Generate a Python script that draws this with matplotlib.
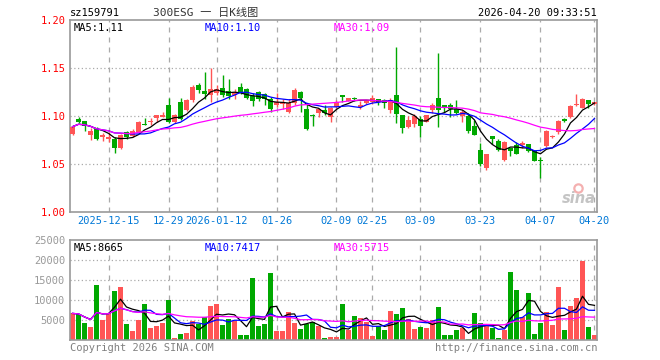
import numpy as np
import pandas as pd
import matplotlib
matplotlib.use("Agg")
import matplotlib.pyplot as plt

# daily candles, 2025-12-05 .. 2026-04-20 (88 trading days)
opens = [1.0813, 1.0969, 1.0948, 1.0806, 1.0868, 1.0778, 1.0760, 1.0764, 1.0667, 1.0837,
         1.0792, 1.0833, 1.0920, 1.0934, 1.0983, 1.0993, 1.1115, 1.0934, 1.1146, 1.1063,
         1.1167, 1.1323, 1.1260, 1.1219, 1.1236, 1.1288, 1.1260, 1.1222, 1.1299, 1.1278,
         1.1208, 1.1250, 1.1229, 1.1174, 1.1115, 1.1122, 1.1045, 1.1139, 1.1250, 1.1069,
         1.1010, 1.1031, 1.1063, 1.0993, 1.1097, 1.1215, 1.1160, 1.1184, 1.1090, 1.1139,
         1.1149, 1.1177, 1.1167, 1.1062, 1.1219, 1.1010, 1.0882, 1.0917, 1.0965, 1.0941,
         1.1062, 1.1187, 1.1111, 1.1111, 1.1076, 1.1000, 1.1000, 1.0896, 1.0646, 1.0458,
         1.0792, 1.0740, 1.0542, 1.0663, 1.0694, 1.0694, 1.0708, 1.0635, 1.0538, 1.0688,
         1.0781, 1.0830, 1.0969, 1.0993, 1.1115, 1.1087, 1.1167, 1.1125]
highs = [1.0899, 1.0986, 1.0948, 1.0872, 1.0889, 1.0819, 1.0837, 1.0785, 1.0813, 1.0847,
         1.0868, 1.0948, 1.0976, 1.0976, 1.1014, 1.1038, 1.1188, 1.1017, 1.1188, 1.1174,
         1.1319, 1.1347, 1.1455, 1.1497, 1.1323, 1.1427, 1.1385, 1.1278, 1.1347, 1.1288,
         1.1236, 1.1264, 1.1243, 1.1201, 1.1243, 1.1174, 1.1174, 1.1292, 1.1257, 1.1139,
         1.1017, 1.1080, 1.1115, 1.1097, 1.1167, 1.1215, 1.1191, 1.1198, 1.1160, 1.1167,
         1.1215, 1.1177, 1.1174, 1.1184, 1.1722, 1.1010, 1.1000, 1.1021, 1.1000, 1.1010,
         1.1139, 1.1660, 1.1115, 1.1132, 1.1167, 1.1062, 1.1028, 1.0958, 1.0715, 1.0604,
         1.0792, 1.0757, 1.0736, 1.0670, 1.0733, 1.0740, 1.0708, 1.0646, 1.0569, 1.0854,
         1.0802, 1.0958, 1.0979, 1.1115, 1.1226, 1.1184, 1.1167, 1.1149]
lows = [1.0802, 1.0924, 1.0847, 1.0750, 1.0750, 1.0743, 1.0733, 1.0618, 1.0660, 1.0764,
        1.0785, 1.0826, 1.0903, 1.0906, 1.0941, 1.0986, 1.0924, 1.0931, 1.0955, 1.1056,
        1.1149, 1.1243, 1.1174, 1.1149, 1.1219, 1.1201, 1.1174, 1.1174, 1.1229, 1.1174,
        1.1108, 1.1160, 1.1115, 1.1045, 1.1097, 1.1069, 1.1028, 1.1115, 1.1045, 1.0854,
        1.0896, 1.0990, 1.1010, 1.0941, 1.1080, 1.1149, 1.1156, 1.1156, 1.1076, 1.1125,
        1.1125, 1.1111, 1.1087, 1.1028, 1.0931, 1.0819, 1.0872, 1.0889, 1.0778, 1.0934,
        1.1028, 1.0889, 1.1038, 1.0986, 1.1021, 1.0941, 1.0826, 1.0802, 1.0479, 1.0438,
        1.0708, 1.0639, 1.0531, 1.0583, 1.0604, 1.0663, 1.0628, 1.0531, 1.0351, 1.0681,
        1.0774, 1.0813, 1.0941, 1.0983, 1.1108, 1.1080, 1.1080, 1.1118]
closes = [1.0889, 1.0938, 1.0899, 1.0844, 1.0764, 1.0802, 1.0785, 1.0670, 1.0802, 1.0778,
          1.0844, 1.0938, 1.0910, 1.0948, 1.1010, 1.1014, 1.0934, 1.1010, 1.0965, 1.1167,
          1.1306, 1.1271, 1.1229, 1.1278, 1.1278, 1.1219, 1.1212, 1.1253, 1.1247, 1.1184,
          1.1160, 1.1174, 1.1174, 1.1073, 1.1142, 1.1146, 1.1139, 1.1271, 1.1191, 1.0865,
          1.1003, 1.1073, 1.1031, 1.1087, 1.1149, 1.1201, 1.1184, 1.1174, 1.1115, 1.1153,
          1.1184, 1.1146, 1.1139, 1.1167, 1.1017, 1.0878, 1.0958, 1.1000, 1.0896, 1.1010,
          1.1111, 1.1062, 1.1097, 1.1076, 1.1028, 1.1045, 1.0844, 1.0802, 1.0497, 1.0604,
          1.0764, 1.0646, 1.0729, 1.0639, 1.0604, 1.0722, 1.0639, 1.0535, 1.0531, 1.0844,
          1.0792, 1.0948, 1.0948, 1.1108, 1.1125, 1.1177, 1.1125, 1.1142]
volumes = [6650, 6400, 4250, 3250, 13750, 5000, 6750, 12250, 13250, 4000,
           2250, 5000, 9000, 3000, 3600, 4250, 10000, 500, 1500, 1750,
           4750, 4100, 5750, 8600, 9000, 3850, 5250, 4850, 1350, 1350,
           15500, 3600, 4000, 16750, 2250, 2250, 7000, 4350, 2750, 4000,
           4400, 3500, 500, 850, 850, 9000, 2500, 6100, 5500, 4500,
           1000, 3400, 2500, 7250, 6500, 8000, 5250, 2750, 3350, 3000,
           5000, 8250, 1250, 1250, 2450, 3000, 300, 6750, 4170, 4000,
           3000, 500, 2500, 17000, 12500, 5750, 11750, 1500, 4250, 6995,
           3750, 13350, 2500, 8500, 10500, 19825, 3250, 1250]

tick_pos = [6, 16, 24, 34, 44, 50, 58, 68, 78, 87]
tick_labels = ["2025-12-15", "12-29", "2026-01-12", "01-26", "02-09",
               "02-25", "03-09", "03-23", "04-07", "04-20"]

UP = "#ff5555"
DOWN = "#00a800"
GRID = "#aaaaaa"
FRAME = "#999999"
MONO = ["DejaVu Sans Mono", "Noto Sans CJK SC"]

df = pd.DataFrame({"o": opens, "h": highs, "l": lows, "c": closes, "v": volumes})
x = np.arange(len(df))
up = df["c"] >= df["o"]
colors = np.where(up, UP, DOWN)

fig = plt.figure(figsize=(6.6, 3.6), dpi=100)
W, H = 660, 360


def box(left, top, right, bottom):
    return [left / W, 1 - bottom / H, (right - left) / W, (bottom - top) / H]


ax = fig.add_axes(box(70, 20, 597, 212))
axv = fig.add_axes(box(70, 240, 597, 340))

for a in (ax, axv):
    a.set_xlim(-0.42, 87.42)
    for s in a.spines.values():
        s.set_color(FRAME)
        s.set_linewidth(1.2)
    a.set_xticks(tick_pos)
    a.tick_params(length=0)
    for t in tick_pos:
        a.axvline(t, color=GRID, lw=0.9, ls=(0, (4, 4)), zorder=0)

# candles
ax.vlines(x, df["l"], df["h"], colors=colors, lw=1.0, zorder=2)
body_lo = np.minimum(df["o"], df["c"])
body_h = np.maximum(np.abs(df["c"] - df["o"]), 0.0009)
ax.bar(x, body_h, bottom=body_lo, width=0.78, color=colors, lw=0, zorder=3)

for n, col in ((5, "black"), (10, "#0000ff"), (30, "#ff00ff")):
    ax.plot(x, df["c"].rolling(n, min_periods=1).mean(), color=col, lw=0.9, zorder=4)

ax.set_ylim(1.00, 1.20)
ax.set_yticks([1.00, 1.05, 1.10, 1.15, 1.20])
ax.set_yticklabels(["1.00", "1.05", "1.10", "1.15", "1.20"], color="#ff0000",
                   family=MONO, fontsize=7.5)
for yv in (1.05, 1.10, 1.15):
    ax.axhline(yv, color=GRID, lw=0.9, ls=(0, (1, 2)), zorder=0)
ax.set_xticklabels(tick_labels, color="#0078d7", family=MONO, fontsize=7.5)
ax.tick_params(axis="x", pad=3)
ax.tick_params(axis="y", pad=3)

ma5 = df["c"].rolling(5).mean().iloc[-1]
ma10 = df["c"].rolling(10).mean().iloc[-1]
ma30 = df["c"].rolling(30).mean().iloc[-1]
ax.text(0.007, 0.985, f"MA5:{ma5:.2f}", transform=ax.transAxes, va="top",
        family=MONO, fontsize=7.5, color="black")
ax.text(0.255, 0.985, f"MA10:{ma10:.2f}", transform=ax.transAxes, va="top",
        family=MONO, fontsize=7.5, color="#0000ff")
ax.text(0.5, 0.985, f"MA30:{ma30:.2f}", transform=ax.transAxes, va="top",
        family=MONO, fontsize=7.5, color="#ff00ff")

# sina watermark
ax.text(0.998, 0.03, "sina", transform=ax.transAxes, ha="right", va="bottom",
        fontsize=10.5, fontweight="bold", style="italic", color="#c4c4c4", zorder=1)
ax.plot([0.964], [0.125], transform=ax.transAxes, marker="o", ms=6,
        mfc="none", mec="#f4b0b0", mew=1.6, zorder=1)

# volume
axv.bar(x, df["v"], width=0.8, color=colors, lw=0, zorder=2)
for n, col in ((5, "black"), (10, "#0000ff"), (30, "#ff00ff")):
    axv.plot(x, df["v"].rolling(n, min_periods=1).mean(), color=col, lw=0.9, zorder=4)
axv.set_ylim(0, 25000)
axv.set_yticks([5000, 10000, 15000, 20000, 25000])
axv.set_yticklabels(["5000", "10000", "15000", "20000", "25000"], color="#999999",
                    family=MONO, fontsize=7.5)
for yv in (5000, 10000, 15000, 20000):
    axv.axhline(yv, color=GRID, lw=0.9, ls=(0, (1, 2)), zorder=0)
axv.set_xticklabels([])

v5 = df["v"].rolling(5).mean().iloc[-1]
v10 = df["v"].rolling(10).mean().iloc[-1]
v30 = df["v"].rolling(30).mean().iloc[-1]
axv.text(0.007, 0.97, f"MA5:{v5:.0f}", transform=axv.transAxes, va="top",
         family=MONO, fontsize=7.5, color="black")
axv.text(0.255, 0.97, f"MA10:{v10:.0f}", transform=axv.transAxes, va="top",
         family=MONO, fontsize=7.5, color="#0000ff")
axv.text(0.5, 0.97, f"MA30:{v30:.0f}", transform=axv.transAxes, va="top",
         family=MONO, fontsize=7.5, color="#ff00ff")

# header / footer
fig.text(70 / W, 1 - 13 / H, "sz159791", family=MONO, fontsize=7.5, va="center")
fig.text(206 / W, 1 - 13 / H, "300ESG 一 日K线图", family=MONO, fontsize=8,
         va="center", ha="center", color="#333333")
fig.text(597 / W, 1 - 13 / H, "2026-04-20 09:33:51", family=MONO, fontsize=7.5,
         va="center", ha="right")
fig.text(70 / W, 1 - 348 / H, "Copyright 2026 SINA.COM", family=MONO, fontsize=7.5,
         va="center", color="#808080")
fig.text(597 / W, 1 - 348 / H, "http://finance.sina.com.cn", family=MONO, fontsize=7.5,
         va="center", ha="right", color="#808080")

fig.savefig("out.png", dpi=100, facecolor="white")
